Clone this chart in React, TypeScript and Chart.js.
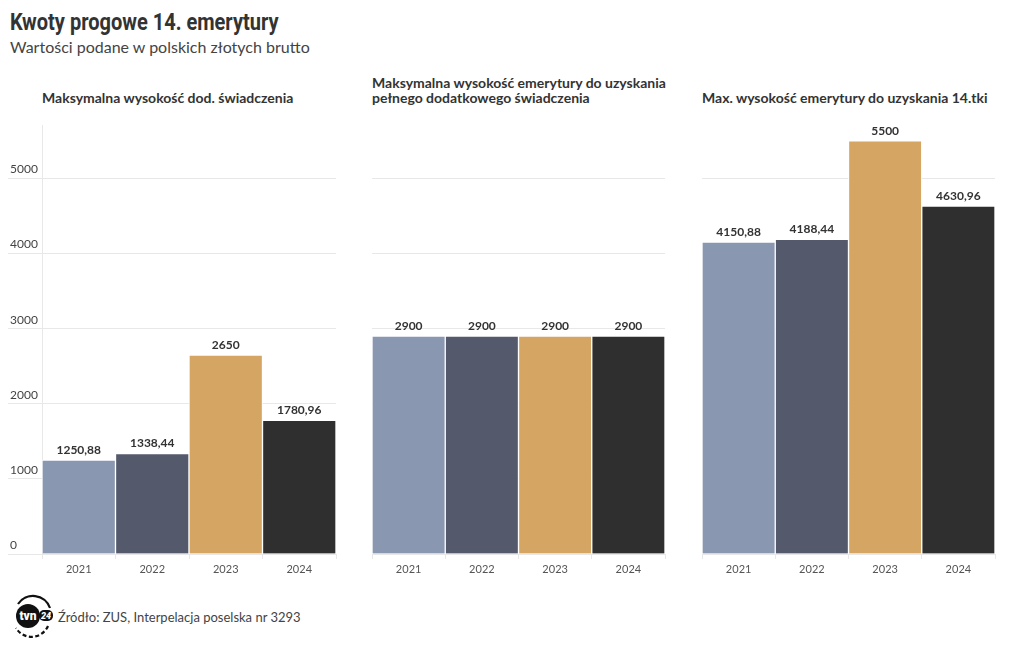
import React, { useEffect, useRef } from "react";
import { Chart, registerables } from "chart.js";

Chart.register(...registerables);

const categories = ["2021", "2022", "2023", "2024"];
const panelTitles = [
  ["Maksymalna wysokość dod. świadczenia"],
  ["Maksymalna wysokość emerytury do uzyskania", "pełnego dodatkowego świadczenia"],
  ["Max. wysokość emerytury do uzyskania 14.tki"],
];
const dodSwiadczenia = [1250.88, 1338.44, 2650, 1780.96];
const pelneSwiadczenie = [2900, 2900, 2900, 2900];
const maxEmerytura = [4150.88, 4188.44, 5500, 4630.96];
const seriesList = [dodSwiadczenia, pelneSwiadczenie, maxEmerytura];
const barColors = ["#8a97b1", "#545a6b", "#d5a563", "#2f2f2f"];
const yTickValues = [0, 1000, 2000, 3000, 4000, 5000];
const yMax = 5710;

const FONT = "Lato, 'Noto Sans', sans-serif";
const GRID = "#e8e8e8";

const fmt = (v: number) => String(v).replace(".", ",");

const valueLabels = {
  id: "valueLabels",
  afterDatasetsDraw(chart: any) {
    const ctx = chart.ctx;
    const meta = chart.getDatasetMeta(0);
    const data = chart.data.datasets[0].data as number[];
    ctx.save();
    ctx.font = `bold 12px ${FONT}`;
    ctx.fillStyle = "#333";
    ctx.textAlign = "center";
    ctx.textBaseline = "bottom";
    meta.data.forEach((bar: any, i: number) => {
      ctx.fillText(fmt(data[i]), bar.x, bar.y - 4);
    });
    ctx.restore();
  },
};

function Panel({ values, showY, left, width }: { values: number[]; showY: boolean; left: number; width: number }) {
  const ref = useRef<HTMLCanvasElement | null>(null);
  useEffect(() => {
    if (!ref.current) return;
    const chart = new Chart(ref.current, {
      type: "bar",
      data: {
        labels: categories,
        datasets: [
          {
            data: values,
            backgroundColor: barColors,
            borderColor: "rgba(255,255,255,0.85)",
            borderWidth: 1,
            borderSkipped: "bottom",
            barPercentage: 1,
            categoryPercentage: 1,
          },
        ],
      },
      options: {
        responsive: false,
        animation: false,
        layout: { padding: { left: showY ? 10 : 0, top: 10, right: 4, bottom: 0 } },
        plugins: { legend: { display: false }, tooltip: { enabled: false } },
        scales: {
          x: {
            afterFit: (s: any) => {
              s.height = 31;
            },
            grid: { display: true, drawOnChartArea: false, drawTicks: true, tickLength: 5, color: GRID },
            border: { display: true, color: GRID },
            ticks: { color: "#555", font: { family: FONT, size: 11 }, padding: 4 },
          },
          y: {
            min: 0,
            max: yMax,
            afterBuildTicks: (s: any) => {
              s.ticks = yTickValues.map((v) => ({ value: v }));
            },
            afterFit: (s: any) => {
              s.width = showY ? 32 : 0;
            },
            grid: { color: GRID, drawTicks: showY, tickLength: 34 },
            border: { display: showY, color: GRID },
            ticks: {
              display: showY,
              crossAlign: "far",
              labelOffset: -9,
              color: "#444",
              font: { family: FONT, size: 12 },
              callback: (v: any) => String(v),
            },
          },
        },
      },
      plugins: [valueLabels],
    });
    return () => chart.destroy();
  }, []);
  return (
    <canvas
      ref={ref}
      width={width}
      height={470}
      style={{ position: "absolute", left, top: 115, width, height: 470 }}
    />
  );
}

function Logo() {
  return (
    <svg width={50} height={46} style={{ position: "absolute", left: 8, top: 594 }} viewBox="0 0 50 46">
      <path d="M10 10 A18 18 0 0 1 42 14" fill="none" stroke="#111" strokeWidth={2.2} />
      <path d="M40 32 A18 18 0 0 1 8 34" fill="none" stroke="#111" strokeWidth={2.2} strokeDasharray="4 2.5" />
      <circle cx={20} cy={22} r={12} fill="#111" />
      <text x={20} y={26} textAnchor="middle" fill="#fff" fontFamily="Roboto, sans-serif" fontWeight={900} fontSize={12}>
        tvn
      </text>
      <rect x={31} y={16} width={14} height={11} rx={5} fill="#111" />
      <text x={38} y={25} textAnchor="middle" fill="#fff" fontFamily="Roboto, sans-serif" fontWeight={900} fontStyle="italic" fontSize={9}>
        24
      </text>
    </svg>
  );
}

export default function App() {
  const panelLefts = [0, 372, 702];
  const panelWidths = [340, 297, 297];
  const titleLefts = [42, 372, 702];
  return (
    <div style={{ position: "absolute", left: 0, top: 0, width: 1020, height: 650, background: "#fff", overflow: "hidden" }}>
      <div
        style={{
          position: "absolute",
          left: 10,
          top: 9,
          fontFamily: "Roboto, sans-serif",
          fontWeight: 700,
          fontSize: 23,
          color: "#333",
          whiteSpace: "nowrap",
          transform: "scaleX(0.87)",
          transformOrigin: "left top",
          lineHeight: "28px",
        }}
      >
        Kwoty progowe 14. emerytury
      </div>
      <div
        style={{
          position: "absolute",
          left: 10,
          top: 37,
          fontFamily: FONT,
          fontSize: 16,
          color: "#444",
          whiteSpace: "nowrap",
          lineHeight: "20px",
        }}
      >
        Wartości podane w polskich złotych brutto
      </div>
      {panelTitles.map((lines, i) => (
        <div
          key={i}
          style={{
            position: "absolute",
            left: titleLefts[i],
            bottom: 650 - 105,
            fontFamily: FONT,
            fontWeight: 700,
            fontSize: 14,
            color: "#333",
            lineHeight: "15px",
            whiteSpace: "nowrap",
          }}
        >
          {lines.map((l, j) => (
            <div key={j}>{l}</div>
          ))}
        </div>
      ))}
      {seriesList.map((vals, i) => (
        <Panel key={i} values={vals} showY={i === 0} left={panelLefts[i]} width={panelWidths[i]} />
      ))}
      <Logo />
      <div
        style={{
          position: "absolute",
          left: 58,
          top: 608,
          fontFamily: FONT,
          fontSize: 13,
          color: "#444",
          whiteSpace: "nowrap",
          lineHeight: "18px",
        }}
      >
        Źródło: ZUS, Interpelacja poselska nr 3293
      </div>
    </div>
  );
}
